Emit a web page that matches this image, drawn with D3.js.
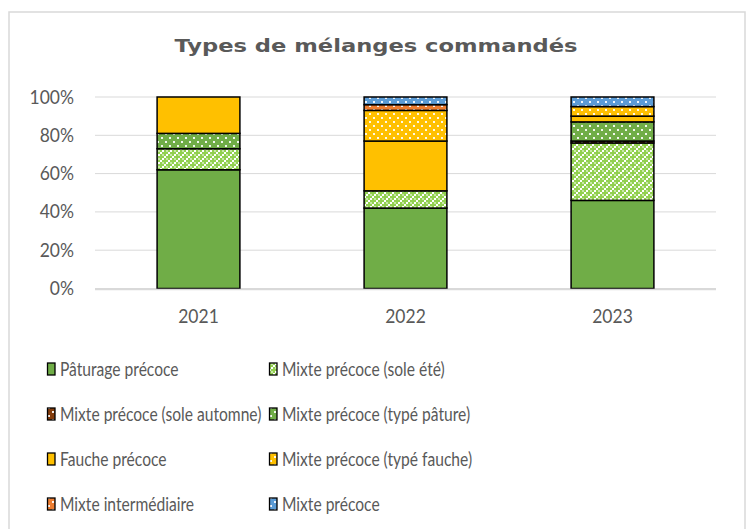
<!DOCTYPE html>
<html>
<head>
<meta charset="utf-8">
<script src="https://cdn.jsdelivr.net/npm/d3@7"></script>
<style>
  body { margin: 0; background: #fff; }
  svg { display: block; }
</style>
</head>
<body>
<svg id="chart" width="750" height="529"></svg>
<script>
const years = ["2021", "2022", "2023"];
const seriesNames = [
  "Pâturage précoce",
  "Mixte précoce (sole été)",
  "Mixte précoce (sole automne)",
  "Mixte précoce (typé pâture)",
  "Fauche précoce",
  "Mixte précoce (typé fauche)",
  "Mixte intermédiaire",
  "Mixte précoce"
];
// share of each series per year (%)
const paturage = [62, 42, 46];
const soleEte = [11, 9, 30];
const soleAutomne = [0, 0, 1];
const typePature = [8, 0, 10];
const fauche = [19, 26, 3];
const typeFauche = [0, 16, 5];
const intermediaire = [0, 3, 0];
const mixtePrecoce = [0, 4, 5];
const yTicks = [0, 0.2, 0.4, 0.6, 0.8, 1];

const allValues = [paturage, soleEte, soleAutomne, typePature, fauche, typeFauche, intermediaire, mixtePrecoce];
const rows = years.map((yr, i) => {
  const r = { year: yr };
  seriesNames.forEach((n, j) => { r[n] = allValues[j][i] / 100; });
  return r;
});

const styles = [
  { color: "#70AD47", pat: "solid" },
  { color: "#92D050", pat: "check" },
  { color: "#843C0C", pat: "dots" },
  { color: "#70AD47", pat: "dots" },
  { color: "#FFC000", pat: "solid" },
  { color: "#FFC000", pat: "dots" },
  { color: "#ED7D31", pat: "dots" },
  { color: "#5B9BD5", pat: "dots" }
];

// squeeze text horizontally (original face is tall and narrow)
function condense(sel, k) {
  sel.each(function () {
    const w = this.getComputedTextLength();
    d3.select(this).attr("textLength", w * k).attr("lengthAdjust", "spacingAndGlyphs");
  });
}

const svg = d3.select("#chart");
const defs = svg.append("defs");
styles.forEach((s, i) => {
  if (s.pat === "dots") {
    const p = defs.append("pattern").attr("id", "p" + i)
      .attr("patternUnits", "userSpaceOnUse").attr("width", 8).attr("height", 8);
    p.append("rect").attr("width", 8).attr("height", 8).attr("fill", s.color);
    p.append("rect").attr("x", 1).attr("y", 1).attr("width", 2).attr("height", 2).attr("fill", "#fff").attr("opacity", 0.9);
    p.append("rect").attr("x", 5).attr("y", 5).attr("width", 2).attr("height", 2).attr("fill", "#fff").attr("opacity", 0.9);
  } else if (s.pat === "check") {
    const p = defs.append("pattern").attr("id", "p" + i)
      .attr("patternUnits", "userSpaceOnUse").attr("width", 8).attr("height", 8);
    p.append("rect").attr("width", 8).attr("height", 8).attr("fill", s.color);
    [[0, 0], [4, 4], [2, 6], [6, 2]].forEach(([x, y]) => {
      p.append("rect").attr("x", x).attr("y", y).attr("width", 2).attr("height", 2).attr("fill", "#fff");
    });
    [[2, 2], [6, 6]].forEach(([x, y]) => {
      p.append("rect").attr("x", x).attr("y", y).attr("width", 2).attr("height", 2).attr("fill", "#fff").attr("opacity", 0.5);
    });
  }
});
const fillOf = i => styles[i].pat === "solid" ? styles[i].color : `url(#p${i})`;

// chart frame
svg.append("rect").attr("x", 9).attr("y", 12).attr("width", 736).attr("height", 530)
  .attr("fill", "#fff").attr("stroke", "#D9D9D9").attr("stroke-width", 1.5);

svg.append("text").attr("x", 376).attr("y", 52).attr("text-anchor", "middle")
  .attr("font-family", "DejaVu Sans").attr("font-weight", "bold").attr("font-size", "18px")
  .attr("textLength", 403).attr("lengthAdjust", "spacingAndGlyphs")
  .attr("fill", "#595959").text("Types de mélanges commandés");

const plot = { left: 95, right: 716, top: 97, bottom: 288.5 };
const x = d3.scaleBand().domain(years).range([plot.left, plot.right])
  .paddingInner(0.6).paddingOuter(0.3);
const y = d3.scaleLinear().domain([0, 1]).range([plot.bottom, plot.top]);

// gridlines
svg.append("g").selectAll("line").data(yTicks).enter().append("line")
  .attr("x1", plot.left).attr("x2", plot.right)
  .attr("y1", d => y(d)).attr("y2", d => y(d))
  .attr("stroke", "#D9D9D9").attr("stroke-width", 1);

const yAxis = svg.append("g").attr("transform", `translate(${plot.left - 18},0)`)
  .call(d3.axisLeft(y).tickValues(yTicks).tickFormat(d3.format(".0%")).tickSize(0));
yAxis.select(".domain").remove();
yAxis.selectAll("text").attr("font-family", "Lato").attr("font-size", "19px").attr("fill", "#595959")
  .call(condense, 0.92);

const xAxis = svg.append("g").attr("transform", `translate(0,${plot.bottom})`)
  .call(d3.axisBottom(x).tickSize(0).tickPadding(0));
xAxis.select(".domain").remove();
xAxis.selectAll("text").attr("dy", null).attr("y", 34)
  .attr("font-family", "Lato").attr("font-size", "19px").attr("fill", "#595959")
  .call(condense, 0.92);

const stack = d3.stack().keys(seriesNames)(rows);
const layers = svg.append("g").selectAll("g").data(stack).enter().append("g")
  .attr("fill", (d, i) => fillOf(i));
layers.selectAll("rect").data(d => d.filter(v => v[1] - v[0] > 0)).enter().append("rect")
  .attr("x", d => x(d.data.year))
  .attr("width", x.bandwidth())
  .attr("y", d => y(d[1]))
  .attr("height", d => y(d[0]) - y(d[1]))
  .attr("stroke", "#000").attr("stroke-width", 1.5);

// bottom axis line
svg.append("line").attr("x1", plot.left).attr("x2", plot.right)
  .attr("y1", plot.bottom + 1).attr("y2", plot.bottom + 1)
  .attr("stroke", "#D9D9D9").attr("stroke-width", 1.5);

// legend
const legend = svg.append("g").selectAll("g").data(seriesNames).enter().append("g")
  .attr("transform", (d, i) => `translate(${i % 2 === 0 ? 47 : 269},${369 + Math.floor(i / 2) * 45})`);
legend.append("rect").attr("x", 0.5).attr("y", -6).attr("width", 7.5).attr("height", 12)
  .attr("fill", (d, i) => fillOf(i)).attr("stroke", "#000").attr("stroke-width", 1.3);
legend.append("text").attr("transform", "translate(13,0) scale(0.78,1)").attr("dy", "0.35em")
  .attr("font-family", "Lato").attr("font-size", "20px").attr("fill", "#595959")
  .text(d => d);
</script>
</body>
</html>
